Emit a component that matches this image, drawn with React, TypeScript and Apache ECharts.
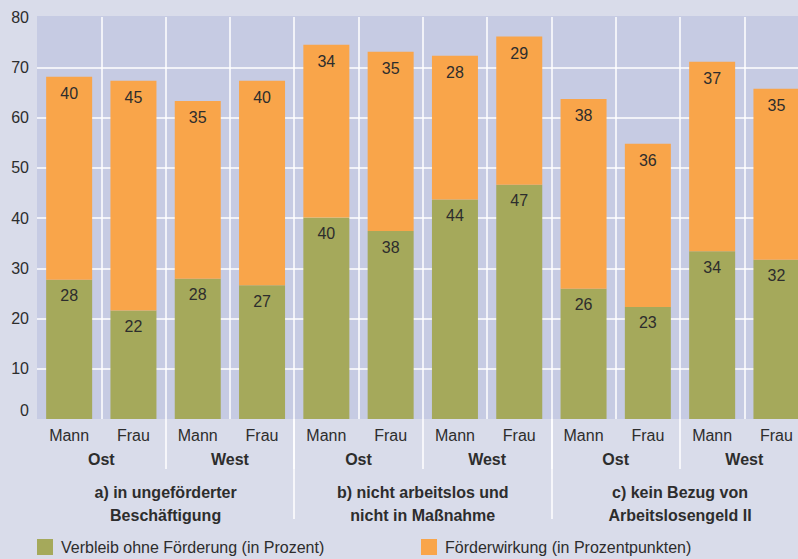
import React, { useEffect, useRef } from "react";
import * as echarts from "echarts";

const categories = ["Mann", "Frau", "Mann", "Frau", "Mann", "Frau", "Mann", "Frau", "Mann", "Frau", "Mann", "Frau"];
const regions = ["Ost", "West", "Ost", "West", "Ost", "West"];
const sections = [
  "a) in ungeförderter\nBeschäftigung",
  "b) nicht arbeitslos und\nnicht in Maßnahme",
  "c) kein Bezug von\nArbeitslosengeld II",
];
// drawn bar heights
const verbleib = [27.7, 21.6, 27.9, 26.6, 40.1, 37.4, 43.7, 46.6, 25.9, 22.3, 33.4, 31.7];
const wirkung = [40.4, 45.7, 35.4, 40.7, 34.4, 35.7, 28.6, 29.5, 37.8, 32.5, 37.7, 34.0];
// printed labels
const verbleibLabels = [28, 22, 28, 27, 40, 38, 44, 47, 26, 23, 34, 32];
const wirkungLabels = [40, 45, 35, 40, 34, 35, 28, 29, 38, 36, 37, 35];
const yTicks = [0, 10, 20, 30, 40, 50, 60, 70, 80];

const nameA = "Verbleib ohne Förderung (in Prozent)";
const nameB = "Förderwirkung (in Prozentpunkten)";

const TXT = "#2d2d2d";
const GREEN = "#a5a95b";
const ORANGE = "#f9a54a";
const PLOT = "#c6cbe3";
const BG = "#d9dcea";
const FONT = "'Liberation Sans', Arial, sans-serif";

export default function App() {
  const ref = useRef<HTMLDivElement>(null);
  useEffect(() => {
    if (!ref.current) return;
    const chart = echarts.init(ref.current, undefined, { renderer: "svg" });
    const legendBase = {
      top: 539,
      itemWidth: 16,
      itemHeight: 16,
      padding: 0,
      icon: "rect",
      selectedMode: false,
      textStyle: { fontSize: 16, color: TXT, fontFamily: FONT, padding: [0, 0, 0, 3] },
    };
    chart.setOption({
      animation: false,
      backgroundColor: BG,
      textStyle: { fontFamily: FONT },
      grid: { left: 37, top: 17, width: 771.6, height: 402, containLabel: false },
      graphic: [
        {
          type: "rect",
          z: -100,
          shape: { x: 37, y: 16, width: 780, height: 403 },
          style: { fill: PLOT },
          silent: true,
        },
      ],
      legend: [
        { ...legendBase, left: 37, data: [nameA] },
        { ...legendBase, left: 421, data: [nameB] },
      ],
      xAxis: [
        {
          type: "category",
          data: categories,
          position: "bottom",
          axisLine: { show: false },
          axisTick: { show: false },
          axisLabel: { fontSize: 16, color: TXT, margin: 8, interval: 0 },
          splitLine: {
            show: true,
            interval: (i: number) => i > 0,
            lineStyle: { color: "#ffffff", width: 1.5 },
          },
        },
        {
          type: "category",
          data: regions,
          position: "bottom",
          axisLine: { show: false },
          axisTick: {
            show: true,
            length: 50,
            interval: (i: number) => i > 0,
            lineStyle: { color: "#ffffff", width: 1.5 },
          },
          axisLabel: { fontSize: 16, fontWeight: "bold", color: TXT, margin: 32, interval: 0 },
        },
        {
          type: "category",
          data: sections,
          position: "bottom",
          axisLine: { show: false },
          axisTick: {
            show: true,
            length: 100,
            interval: (i: number) => i > 0,
            lineStyle: { color: "#ffffff", width: 1.5 },
          },
          axisLabel: {
            fontSize: 16,
            fontWeight: "bold",
            color: TXT,
            margin: 62,
            lineHeight: 23,
            interval: 0,
          },
        },
      ],
      yAxis: {
        type: "value",
        min: yTicks[0],
        max: yTicks[yTicks.length - 1],
        interval: 10,
        axisLine: { show: false },
        axisTick: { show: false },
        axisLabel: {
          fontSize: 16,
          color: TXT,
          margin: 8,
          formatter: (v: number) => (v === 0 ? "{z|0}" : String(v)),
          rich: { z: { fontSize: 16, color: TXT, padding: [0, 0, 18, 0] } },
        },
        splitLine: {
          show: true,
          lineStyle: {
            color: ["rgba(0,0,0,0)", "#fff", "#fff", "#fff", "#fff", "#fff", "#fff", "#fff", "rgba(0,0,0,0)"],
            width: 1.5,
          },
        },
      },
      series: [
        {
          name: nameA,
          type: "bar",
          stack: "s",
          barWidth: 46,
          data: verbleib,
          itemStyle: { color: GREEN },
          label: {
            show: true,
            position: "insideTop",
            distance: 8,
            fontSize: 16,
            color: TXT,
            formatter: (p: any) => String(verbleibLabels[p.dataIndex]),
          },
        },
        {
          name: nameB,
          type: "bar",
          stack: "s",
          barWidth: 46,
          data: wirkung,
          itemStyle: { color: ORANGE },
          label: {
            show: true,
            position: "insideTop",
            distance: 9,
            fontSize: 16,
            color: TXT,
            formatter: (p: any) => String(wirkungLabels[p.dataIndex]),
          },
        },
      ],
    });
    return () => chart.dispose();
  }, []);
  return (
    <div style={{ position: "absolute", left: 0, top: 0, width: 798, height: 559, overflow: "hidden" }}>
      <div ref={ref} style={{ width: 820, height: 559 }} />
    </div>
  );
}
